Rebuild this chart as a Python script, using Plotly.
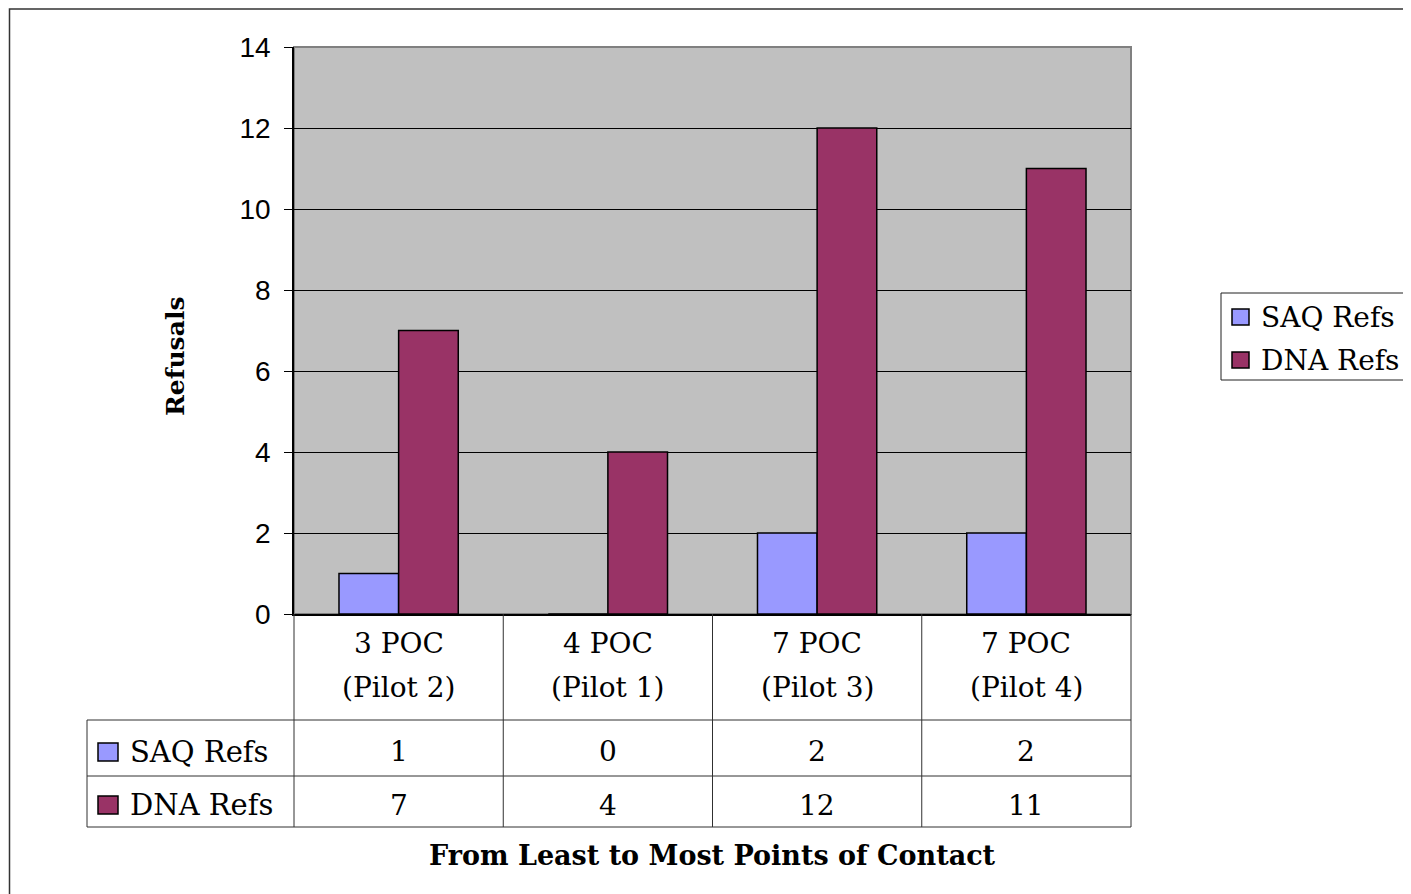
import plotly.graph_objects as go

# ---- data ----
categories = ["3 POC (Pilot 2)", "4 POC (Pilot 1)", "7 POC (Pilot 3)", "7 POC (Pilot 4)"]
cat_line1 = ["3 POC", "4 POC", "7 POC", "7 POC"]
cat_line2 = ["(Pilot 2)", "(Pilot 1)", "(Pilot 3)", "(Pilot 4)"]
series_names = ["SAQ Refs", "DNA Refs"]
saq_refs = [1, 0, 2, 2]
dna_refs = [7, 4, 12, 11]
series_values = [saq_refs, dna_refs]
series_colors = ["#9999FF", "#993366"]

OFF = 8  # page body margin
W, H = 1411 - OFF, 894 - OFF
PL, PR, PT, PB = 294, 1131, 47, 614  # plot area in page pixels


def px(x):
    return (x - PL) / (PR - PL)


def py(y):
    return (PB - y) / (PB - PT)


fig = go.Figure()
for name, vals, col in zip(series_names, series_values, series_colors):
    fig.add_trace(go.Bar(
        x=categories, y=vals, name=name,
        marker=dict(color=col, line=dict(color="black", width=1.5)),
        showlegend=False,
    ))

serif = "DejaVu Serif"
shapes = []
annotations = []


def text(x, y, s, size, xref="paper", xanchor="center", angle=0):
    annotations.append(dict(x=x, xref=xref, y=py(y), yref="paper", text=s,
                            xanchor=xanchor, yanchor="middle", textangle=angle,
                            showarrow=False,
                            font=dict(family=serif, size=size, color="black")))


# outer chart border
shapes.append(dict(type="rect", xref="paper", yref="paper",
                   x0=px(9.5), x1=px(1500), y0=py(1000), y1=py(9),
                   line=dict(color="#333333", width=1.5), layer="below"))

# plot area gray border (top/right)
shapes.append(dict(type="rect", xref="paper", yref="paper",
                   x0=0, x1=1, y0=0, y1=1,
                   line=dict(color="#808080", width=2), layer="below"))

line_col = "#303030"
for yy in [720, 776, 827]:
    shapes.append(dict(type="line", xref="paper", yref="paper",
                       x0=px(87), x1=1, y0=py(yy), y1=py(yy),
                       line=dict(color=line_col, width=1)))
n = len(categories)
for i in range(n + 1):
    shapes.append(dict(type="line", xref="paper", yref="paper",
                       x0=i / n, x1=i / n, y0=py(614), y1=py(827),
                       line=dict(color=line_col, width=1)))
shapes.append(dict(type="line", xref="paper", yref="paper",
                   x0=px(87), x1=px(87), y0=py(720), y1=py(827),
                   line=dict(color=line_col, width=1)))

# category labels in table
for c, l1, l2 in zip(categories, cat_line1, cat_line2):
    text(c, 643, l1, 28, xref="x")
    text(c, 687, l2, 28, xref="x")

# table rows
row_y = [752, 805]
for name, vals, col, ry in zip(series_names, series_values, series_colors, row_y):
    shapes.append(dict(type="rect", xref="paper", yref="paper",
                       x0=px(98), x1=px(118), y0=py(ry + 9), y1=py(ry - 9),
                       fillcolor=col, line=dict(color="black", width=1.5)))
    text(px(128), ry, name, 29, xanchor="left")
    for c, v in zip(categories, vals):
        text(c, ry, str(v), 28, xref="x")

# legend box
shapes.append(dict(type="rect", xref="paper", yref="paper",
                   x0=px(1221), x1=px(1410), y0=py(380), y1=py(293),
                   line=dict(color="#202020", width=1), fillcolor="white"))
leg_y = [317, 360]
for name, col, ly in zip(series_names, series_colors, leg_y):
    shapes.append(dict(type="rect", xref="paper", yref="paper",
                       x0=px(1232), x1=px(1249), y0=py(ly + 8), y1=py(ly - 8),
                       fillcolor=col, line=dict(color="black", width=1.5)))
    text(px(1259), ly, name, 28, xanchor="left")

# axis titles
text(px(175), 357, "<b>Refusals</b>", 25, angle=-90)
text(px(712), 855, "<b>From Least to Most Points of Contact</b>", 27)

fig.update_layout(
    width=W, height=H,
    margin=dict(l=PL - OFF, r=W - (PR - OFF), t=PT - OFF, b=H - (PB - OFF), pad=0),
    paper_bgcolor="white",
    plot_bgcolor="#C0C0C0",
    barmode="group",
    bargap=0.43,
    bargroupgap=0,
    shapes=shapes,
    annotations=annotations,
    showlegend=False,
)
fig.update_xaxes(showticklabels=False, ticks="", showgrid=False,
                 showline=True, linecolor="black", linewidth=1.5, zeroline=False)
fig.update_yaxes(range=[0, 14], dtick=2, tick0=0, ticks="outside", ticklen=8,
                 tickcolor="black", showline=True, linecolor="black", linewidth=1.5,
                 showgrid=True, gridcolor="black", gridwidth=1, zeroline=False,
                 ticklabelstandoff=8,
                 tickfont=dict(family="Liberation Sans", size=28, color="black"))

fig.write_html("out.html")
